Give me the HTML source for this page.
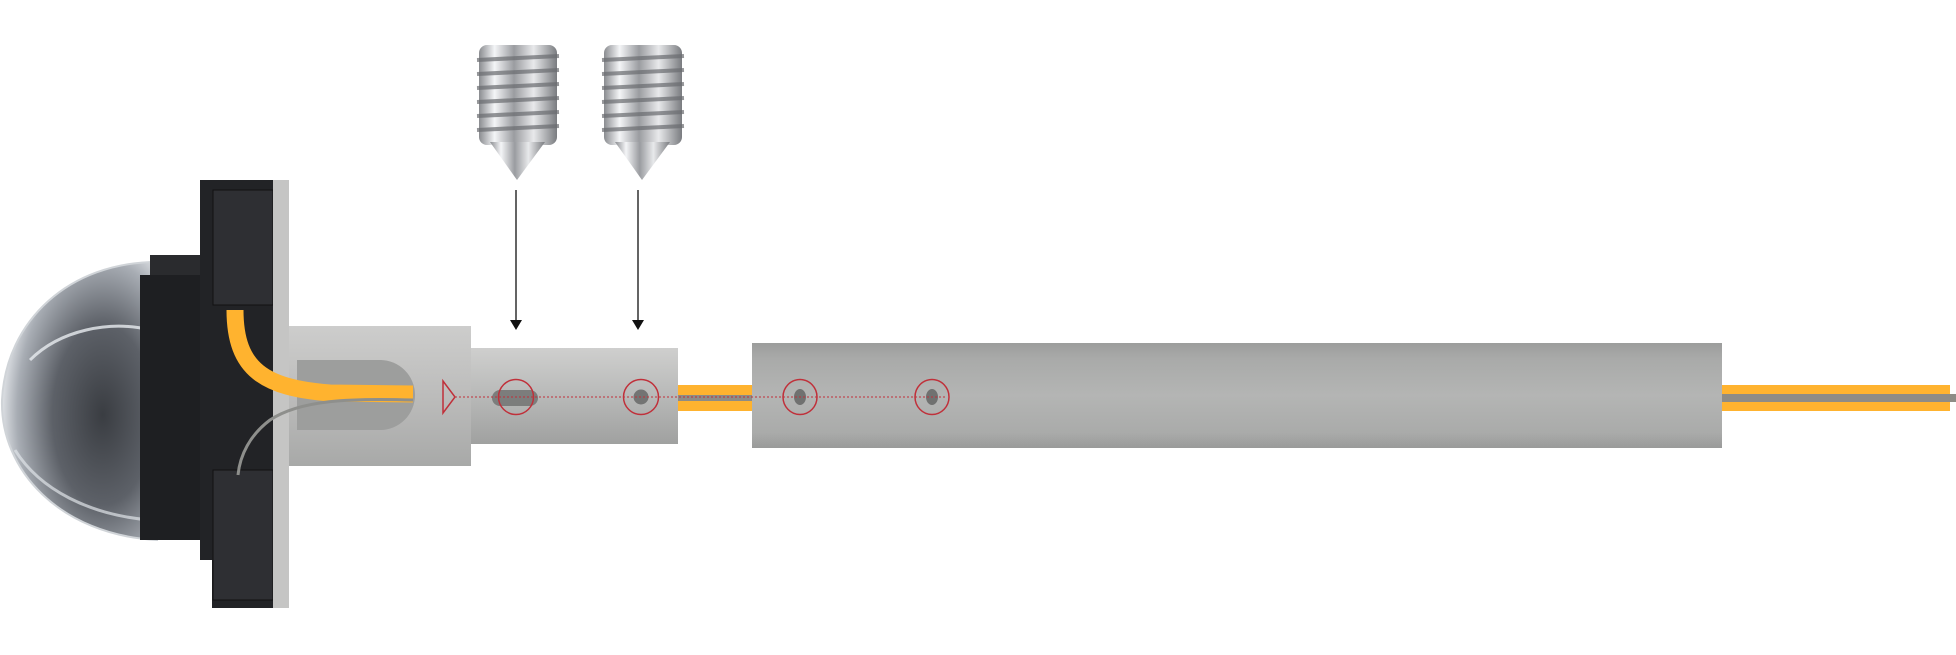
<!DOCTYPE html>
<html><head><meta charset="utf-8"><style>
html,body{margin:0;padding:0;background:#fff;width:1956px;height:655px;overflow:hidden}
</style></head><body>
<svg width="1956" height="655" viewBox="0 0 1956 655" xmlns="http://www.w3.org/2000/svg">
<defs>
<linearGradient id="tube" x1="0" y1="0" x2="0" y2="1">
<stop offset="0" stop-color="#9c9d9c"/><stop offset="0.15" stop-color="#a9aaa9"/><stop offset="0.5" stop-color="#b4b5b4"/><stop offset="0.85" stop-color="#aaabaa"/><stop offset="1" stop-color="#9a9b9a"/></linearGradient>
<linearGradient id="cyl2" x1="0" y1="0" x2="0" y2="1">
<stop offset="0" stop-color="#cfcfce"/><stop offset="0.5" stop-color="#b8b9b8"/><stop offset="1" stop-color="#a0a1a0"/></linearGradient>
<linearGradient id="hub" x1="0" y1="0" x2="0" y2="1">
<stop offset="0" stop-color="#cdcdcc"/><stop offset="0.5" stop-color="#bcbcbb"/><stop offset="1" stop-color="#a8a9a8"/></linearGradient>
<linearGradient id="screw" x1="0" y1="0" x2="1" y2="0">
<stop offset="0" stop-color="#8a8c90"/><stop offset="0.2" stop-color="#f4f5f7"/><stop offset="0.45" stop-color="#9a9ca0"/><stop offset="0.7" stop-color="#e8e9eb"/><stop offset="1" stop-color="#7a7c80"/></linearGradient>
<radialGradient id="dome" cx="0.65" cy="0.55" r="0.65">
<stop offset="0" stop-color="#3a3d42"/><stop offset="0.5" stop-color="#5d6168"/><stop offset="0.85" stop-color="#a8adb4"/><stop offset="1" stop-color="#dde0e4"/></radialGradient>
</defs>

<!-- screws -->
<g>
<rect x="479" y="45" width="78" height="100" rx="8" fill="url(#screw)"/>
<g stroke="#6a6c70" stroke-width="4" opacity="0.7">
<line x1="477" y1="60" x2="559" y2="56"/><line x1="477" y1="74" x2="559" y2="70"/><line x1="477" y1="88" x2="559" y2="84"/><line x1="477" y1="102" x2="559" y2="98"/><line x1="477" y1="116" x2="559" y2="112"/><line x1="477" y1="130" x2="559" y2="126"/></g>
<polygon points="490,142 545,142 517,180" fill="url(#screw)"/>
<rect x="604" y="45" width="78" height="100" rx="8" fill="url(#screw)"/>
<g stroke="#6a6c70" stroke-width="4" opacity="0.7">
<line x1="602" y1="60" x2="684" y2="56"/><line x1="602" y1="74" x2="684" y2="70"/><line x1="602" y1="88" x2="684" y2="84"/><line x1="602" y1="102" x2="684" y2="98"/><line x1="602" y1="116" x2="684" y2="112"/><line x1="602" y1="130" x2="684" y2="126"/></g>
<polygon points="615,142 670,142 642,180" fill="url(#screw)"/>
</g>

<!-- arrows -->
<line x1="516" y1="190" x2="516" y2="322" stroke="#111" stroke-width="1.3"/>
<polygon points="510,320 522,320 516,330" fill="#111"/>
<line x1="638" y1="190" x2="638" y2="322" stroke="#111" stroke-width="1.3"/>
<polygon points="632,320 644,320 638,330" fill="#111"/>

<!-- right cable -->
<rect x="676" y="385" width="80" height="26" fill="#ffb32f"/>
<rect x="676" y="395" width="80" height="6" fill="#8e8c86"/>
<rect x="1720" y="385" width="230" height="26" fill="#ffb32f"/>
<rect x="1720" y="394" width="236" height="8" fill="#8e8c86"/>

<!-- big tube -->
<rect x="752" y="343" width="970" height="105" fill="url(#tube)"/>

<!-- hub -->
<rect x="288" y="326" width="183" height="140" fill="url(#hub)"/>
<path d="M297 360 H380 A35 35 0 0 1 380 430 H297 Z" fill="#9d9e9d"/>
<!-- cyl2 -->
<rect x="471" y="348" width="207" height="96" fill="url(#cyl2)"/>

<!-- lamp: dome -->
<path d="M157 262 C70 262 6 320 2 400 C0 470 60 535 157 540 Z" fill="url(#dome)" stroke="#d0d4d8" stroke-width="2"/>
<path d="M30 360 C60 330 110 320 150 330" stroke="#e8ecf0" stroke-width="3" fill="none" opacity="0.8"/>
<path d="M15 450 C40 490 90 515 150 520" stroke="#e0e4e8" stroke-width="3" fill="none" opacity="0.7"/>
<!-- black ring -->
<path d="M140 275 H200 V540 H140 Z" fill="#1e1f22"/>
<path d="M150 255 H200 V275 H150 Z" fill="#2a2b2e"/>
<!-- housing -->
<path d="M200 180 H273 V608 H212 V560 H200 Z" fill="#222326"/>
<rect x="213" y="190" width="60" height="115" fill="#2e2f33" stroke="#111" stroke-width="1"/>
<rect x="213" y="470" width="60" height="130" fill="#2e2f33" stroke="#111" stroke-width="1"/>
<!-- flange -->
<rect x="273" y="180" width="16" height="428" fill="#c5c5c4"/>

<!-- yellow cable into slot -->
<path d="M235 310 C235 370 265 388 330 393 L413 394" stroke="#ffb32f" stroke-width="17" fill="none"/>
<path d="M413 400 C350 398 300 400 270 420 C250 435 240 455 238 475" stroke="#8e8f8c" stroke-width="3" fill="none"/>

<!-- holes -->
<rect x="492" y="390" width="46" height="16" rx="8" fill="#7c7d7c"/>
<circle cx="641" cy="397" r="7.5" fill="#737473"/>
<ellipse cx="800" cy="397" rx="6" ry="8" fill="#707170"/>
<ellipse cx="932" cy="397" rx="6" ry="8" fill="#707170"/>

<!-- red dotted line & circles -->
<line x1="455" y1="397" x2="945" y2="397" stroke="#c0303a" stroke-width="1" stroke-dasharray="2,2"/>
<polygon points="443,381 455,397 443,413" fill="none" stroke="#c0303a" stroke-width="1.5"/>
<circle cx="516" cy="397" r="17.5" fill="none" stroke="#c0303a" stroke-width="1.5"/>
<circle cx="641" cy="397" r="17.5" fill="none" stroke="#c0303a" stroke-width="1.5"/>
<ellipse cx="800" cy="397" rx="17" ry="17.5" fill="none" stroke="#c0303a" stroke-width="1.5"/>
<ellipse cx="932" cy="397" rx="17" ry="17.5" fill="none" stroke="#c0303a" stroke-width="1.5"/>
</svg>
</body></html>
